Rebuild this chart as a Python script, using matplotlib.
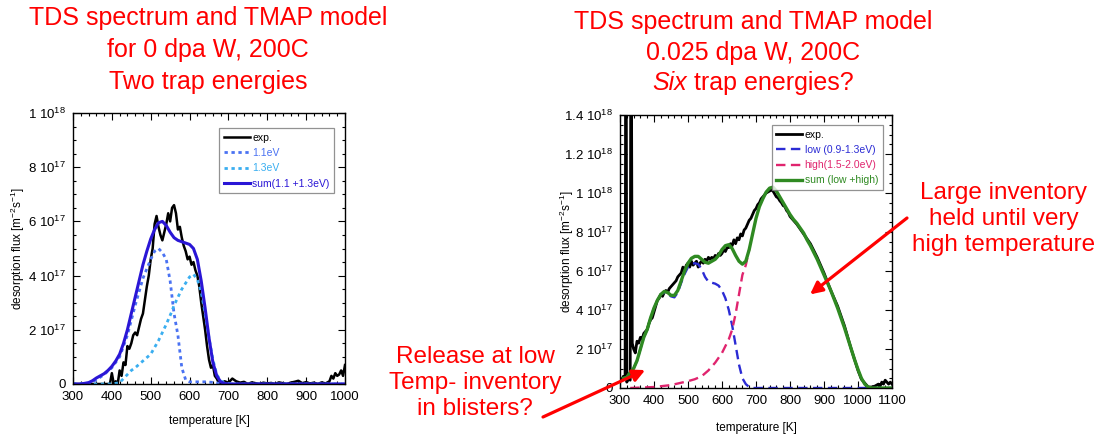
import matplotlib
matplotlib.use("Agg")
import matplotlib.pyplot as plt
from matplotlib.ticker import MultipleLocator

# ---- 0 dpa W, 200C (flux in units of 1e17 m^-2 s^-1) ----
t_exp_0 = [300, 320, 340, 360, 380, 395, 400, 405, 410, 415, 420, 425, 430, 435,
           440, 445, 450, 455, 460, 465, 470, 475, 480, 485, 490, 495, 500, 505,
           510, 515, 520, 525, 530, 535, 540, 545, 550, 555, 560, 565, 570, 575,
           580, 585, 590, 595, 600, 605, 610, 615, 620, 625, 630, 635, 640, 645,
           650, 655, 660, 665, 670, 675, 680, 690, 700, 710, 720, 730, 740, 750,
           760, 770, 780, 790, 800, 810, 820, 830, 840, 850, 860, 870, 880, 890,
           900, 910, 920, 930, 940, 950, 960, 965, 970, 975, 980, 985, 990, 995, 1000]
exp_0 = [0.0, 0.0, 0.0, 0.0, 0.0, 0.0, 0.4, 0.0, 0.1, 0.0, 0.5, 0.3, 0.8, 0.7,
         1.4, 1.3, 1.5, 1.8, 1.9, 1.8, 2.1, 2.4, 2.6, 3.1, 3.6, 4.0, 4.6, 5.0,
         5.9, 6.2, 5.8, 5.5, 5.3, 5.6, 5.9, 6.3, 6.0, 6.5, 6.6, 6.3, 5.7, 5.8,
         5.4, 5.1, 4.9, 4.6, 4.7, 4.4, 4.5, 4.2, 4.0, 3.6, 3.0, 2.5, 2.0, 1.4,
         0.9, 0.6, 0.7, 0.3, 0.2, 0.05, 0.0, 0.1, 0.05, 0.2, 0.1, 0.05, 0.08, 0.0,
         0.06, 0.03, 0.0, 0.05, 0.02, 0.04, 0.0, 0.06, 0.03, 0.0, 0.05, 0.08, 0.12, 0.03,
         0.07, 0.02, 0.05, 0.0, 0.06, 0.02, 0.1, 0.3, 0.2, 0.4, 0.3, 0.35, 0.5, 0.3, 0.7]

t_sum_0 = [300, 320, 340, 350, 360, 370, 380, 390, 400, 410, 420, 430, 440, 450,
           460, 470, 480, 490, 500, 510, 520, 530, 540, 550, 560, 570, 580, 590,
           600, 610, 620, 630, 640, 650, 660, 670, 680, 690, 700, 1000]
sum_0 = [0.0, 0.0, 0.05, 0.12, 0.22, 0.3, 0.38, 0.5, 0.65, 0.85, 1.1, 1.5, 2.0, 2.6,
         3.2, 3.8, 4.4, 4.9, 5.35, 5.7, 5.95, 6.0, 5.85, 5.6, 5.4, 5.3, 5.25, 5.2,
         5.15, 5.0, 4.6, 3.8, 2.8, 1.7, 0.8, 0.3, 0.08, 0.02, 0.0, 0.0]

t_11 = [300, 340, 360, 380, 400, 420, 440, 460, 480, 500, 510, 520, 530, 540,
        550, 560, 570, 580, 590, 600, 620, 640, 660, 680, 700, 1000]
e_11 = [0.0, 0.03, 0.15, 0.35, 0.6, 1.0, 1.8, 2.9, 3.9, 4.6, 4.9, 5.0, 4.85, 4.6,
        3.8, 2.6, 1.8, 0.6, 0.15, 0.08, 0.08, 0.08, 0.06, 0.02, 0.0, 0.0]

t_13 = [300, 400, 420, 440, 450, 460, 480, 500, 520, 530, 540, 555, 560, 580,
        600, 610, 620, 630, 640, 650, 660, 670, 680, 690, 700, 720, 1000]
e_13 = [0.0, 0.0, 0.05, 0.35, 0.5, 0.6, 0.85, 1.1, 1.6, 1.9, 2.2, 2.7, 2.9, 3.5,
        3.95, 4.05, 3.85, 3.4, 2.6, 1.7, 0.9, 0.35, 0.12, 0.05, 0.02, 0.0, 0.0]

# ---- 0.025 dpa W, 200C ----
t_exp_d = [300, 305, 310, 315, 317, 318, 320, 325, 330, 332, 333, 336, 340, 345,
           350, 355, 360, 365, 370, 375, 380, 385, 390, 395, 400, 405, 410, 415,
           420, 425, 430, 435, 440, 445, 450, 455, 460, 465, 470, 475, 480, 485,
           490, 495, 500, 505, 510, 515, 520, 525, 530, 535, 540, 545, 550, 555,
           560, 565, 570, 575, 580, 585, 590, 595, 600, 605, 610, 615, 620, 625,
           630, 635, 640, 645, 650, 655, 660, 665, 670, 675, 680, 685, 690, 695,
           700, 705, 710, 715, 720, 725, 730, 735, 740, 745, 750, 755, 760, 765,
           770, 775, 780, 785, 790, 795, 800, 810, 820, 830, 840, 850, 860, 870,
           880, 890, 900, 910, 920, 930, 940, 950, 960, 970, 980, 990, 1000, 1010,
           1020, 1030, 1040, 1050, 1060, 1065, 1070, 1075, 1080, 1085, 1090, 1095, 1100]
exp_d = [0.5, 0.4, 0.6, 0.5, 20.0, 20.0, 0.3, 0.5, 0.4, 20.0, 20.0, 2.3, 2.0, 1.8,
         2.4, 2.3, 2.6, 2.5, 2.8, 2.9, 3.0, 3.3, 3.5, 3.6, 3.9, 4.2, 4.5, 4.6,
         4.8, 4.7, 4.9, 5.0, 4.9, 5.1, 5.2, 5.3, 5.4, 5.5, 5.7, 5.8, 5.9, 6.2,
         6.0, 6.3, 6.4, 6.2, 6.5, 6.3, 6.4, 6.5, 6.2, 6.4, 6.5, 6.4, 6.6, 6.5,
         6.7, 6.6, 6.7, 6.6, 6.8, 6.7, 6.9, 6.8, 6.9, 7.1, 7.0, 7.2, 7.2, 7.4,
         7.3, 7.6, 7.4, 7.7, 7.6, 7.9, 7.8, 8.1, 8.2, 8.4, 8.6, 8.7, 8.9, 9.1,
         9.2, 9.4, 9.5, 9.7, 9.8, 9.9, 10.0, 10.05, 10.1, 10.15, 10.1, 9.95, 9.8, 9.75,
         9.6, 9.5, 9.35, 9.3, 9.1, 9.0, 8.8, 8.6, 8.4, 8.15, 7.9, 7.65, 7.4, 7.05,
         6.7, 6.3, 5.9, 5.45, 5.0, 4.6, 4.2, 3.7, 3.2, 2.6, 2.0, 1.45, 0.9, 0.45,
         0.25, 0.05, 0.05, 0.1, 0.2, 0.1, 0.3, 0.2, 0.4, 0.3, 0.2, 0.3, 0.2]

t_model_d = [310, 320, 330, 340, 350, 360, 370, 380, 390, 400, 410, 420, 430, 440,
             450, 460, 470, 480, 490, 500, 510, 520, 530, 540, 550, 560, 570, 580,
             590, 600, 610, 620, 630, 640, 650, 660, 670, 680, 690, 700, 710, 720,
             730, 740, 750, 760, 770, 780, 790, 800, 810, 820, 830, 840, 850, 860,
             870, 880, 890, 900, 910, 920, 930, 940, 950, 960, 970, 980, 990, 1000,
             1010, 1020, 1030, 1040, 1100]
sum_d = [0.5, 0.55, 0.8, 1.0, 1.4, 2.0, 2.6, 3.0, 3.6, 4.1, 4.5, 4.8, 4.95, 4.9,
         4.75, 4.75, 5.0, 5.5, 6.0, 6.4, 6.65, 6.75, 6.75, 6.6, 6.45, 6.4, 6.5, 6.6,
         6.8, 7.1, 7.3, 7.35, 7.15, 6.8, 6.5, 6.35, 6.5, 7.1, 7.9, 8.7, 9.3, 9.7,
         10.05, 10.25, 10.3, 10.1, 9.8, 9.5, 9.2, 8.9, 8.65, 8.45, 8.2, 7.95, 7.6, 7.3,
         6.95, 6.6, 6.2, 5.8, 5.4, 5.0, 4.55, 4.1, 3.6, 3.1, 2.55, 2.0, 1.45, 0.95,
         0.5, 0.2, 0.05, 0.0, 0.0]
low_d = [0.5, 0.55, 0.8, 1.0, 1.4, 2.0, 2.6, 3.0, 3.6, 4.1, 4.5, 4.8, 4.9, 4.85,
         4.7, 4.65, 4.9, 5.4, 5.85, 6.2, 6.35, 6.4, 6.35, 6.1, 5.7, 5.45, 5.4, 5.35,
         5.25, 5.0, 4.6, 4.0, 3.2, 2.2, 1.2, 0.5, 0.2, 0.05, 0.0, 0.0, 0.0, 0.0,
         0.0, 0.0, 0.0, 0.0, 0.0, 0.0, 0.0, 0.0, 0.0, 0.0, 0.0, 0.0, 0.0, 0.0,
         0.0, 0.0, 0.0, 0.0, 0.0, 0.0, 0.0, 0.0, 0.0, 0.0, 0.0, 0.0, 0.0, 0.0,
         0.0, 0.0, 0.0, 0.0, 0.0]
t_high_d = [330, 400, 450, 500, 520, 540, 560, 580, 600, 620, 630, 640, 650, 660, 670, 680]
high_d = [0.0, 0.05, 0.15, 0.35, 0.45, 0.6, 0.9, 1.3, 1.8, 2.5, 3.0, 3.8, 4.8, 5.8, 6.3, 7.1]

ticks_0 = [0, 2, 4, 6, 8, 10]
tick_labels_0 = ["0", "2 10$^{17}$", "4 10$^{17}$", "6 10$^{17}$", "8 10$^{17}$", "1 10$^{18}$"]
ticks_d = [0, 2, 4, 6, 8, 10, 12, 14]
tick_labels_d = ["0", "2 10$^{17}$", "4 10$^{17}$", "6 10$^{17}$", "8 10$^{17}$",
                 "1 10$^{18}$", "1.2 10$^{18}$", "1.4 10$^{18}$"]

RED = "#ff0000"
TITLE_SIZE = 18

plt.rcParams["font.family"] = ["Liberation Sans", "DejaVu Sans"]
plt.rcParams["mathtext.default"] = "regular"


def style_axes(ax, xmax, ymax, yticks, ylabels):
    ax.set_xlim(300, xmax)
    ax.set_ylim(0, ymax)
    ax.set_xticks(range(300, xmax + 1, 100))
    ax.set_yticks(yticks)
    ax.set_yticklabels(ylabels)
    ax.xaxis.set_minor_locator(MultipleLocator(20))
    ax.yaxis.set_minor_locator(MultipleLocator(0.5))
    ax.tick_params(which="both", direction="in", top=True, right=True, width=0.8,
                   labelsize=9.5, pad=5)
    ax.tick_params(which="major", length=5)
    ax.tick_params(which="minor", length=2.5)
    for s in ax.spines.values():
        s.set_linewidth(1.0)
    ax.set_xlabel("temperature [K]", fontsize=8.5)
    ax.set_ylabel("desorption flux [m$^{-2}$s$^{-1}$]", fontsize=8.5)


def add_legend(ax, anchor):
    leg = ax.legend(loc="upper right", bbox_to_anchor=anchor, fontsize=7.5,
                    fancybox=False, edgecolor="#777777", handlelength=2.5,
                    handletextpad=0.2, labelspacing=0.5, borderpad=0.45,
                    labelcolor="linecolor")
    leg.get_frame().set_linewidth(0.9)


fig = plt.figure(figsize=(11.03, 4.37), dpi=100)

# left panel: undamaged W
ax1 = fig.add_axes([73 / 1103, 53 / 437, 272 / 1103, 271 / 437])
ax1.plot(t_exp_0, exp_0, color="black", lw=1.8, label="exp.")
ax1.plot(t_11, e_11, color="#4a72f2", lw=2.0, ls=(0, (1.2, 1.3)), label="1.1eV")
ax1.plot(t_13, e_13, color="#3aaef0", lw=2.0, ls=(0, (1.2, 1.3)), label="1.3eV")
ax1.plot(t_sum_0, sum_0, color="#2a16d6", lw=2.2, label="sum(1.1 +1.3eV)")
style_axes(ax1, 1000, 10, ticks_0, tick_labels_0)
ax1.xaxis.set_label_coords(0.5, -0.115)
ax1.yaxis.set_label_coords(-0.17, 0.5)
add_legend(ax1, (0.98, 0.963))

# right panel: 0.025 dpa W
ax2 = fig.add_axes([620 / 1103, 49 / 437, 272 / 1103, 273 / 437])
ax2.plot(t_exp_d, exp_d, color="black", lw=2.0, label="exp.")
ax2.plot(t_model_d, low_d, color="#2b2bd4", lw=1.7, ls=(0, (4, 2.3)), label="low (0.9-1.3eV)")
ax2.plot(t_high_d, high_d, color="#e0246e", lw=1.7, ls=(0, (4, 2.3)), label="high(1.5-2.0eV)")
ax2.plot(t_model_d, sum_d, color="#2f8a22", lw=2.4, label="sum (low +high)")
style_axes(ax2, 1100, 14, ticks_d, tick_labels_d)
ax2.xaxis.set_label_coords(0.5, -0.125)
ax2.yaxis.set_label_coords(-0.163, 0.5)
add_legend(ax2, (0.985, 0.982))

# headings
for i, line in enumerate(["TDS spectrum and TMAP model", "for 0 dpa W, 200C", "Two trap energies"]):
    fig.text(208 / 1103, 1 - (18 + 32 * i) / 437, line, ha="center", va="center",
             fontsize=TITLE_SIZE, color=RED)
for i, line in enumerate(["TDS spectrum and TMAP model", "0.025 dpa W, 200C"]):
    fig.text(753 / 1103, 1 - (22 + 31 * i) / 437, line, ha="center", va="center",
             fontsize=TITLE_SIZE, color=RED)

# third right heading line: "Six" in italics, rest upright, centred as one line
y3 = 1 - 83 / 437
t_it = fig.text(0, y3, "Six", ha="left", va="center", fontsize=TITLE_SIZE, color=RED,
                style="italic")
t_rest = fig.text(0, y3, " trap energies?", ha="left", va="center",
                  fontsize=TITLE_SIZE, color=RED)
renderer = fig.canvas.get_renderer()
w_it = t_it.get_window_extent(renderer).width / fig.bbox.width
w_rest = t_rest.get_window_extent(renderer).width / fig.bbox.width
x0 = 753 / 1103 - (w_it + w_rest) / 2
t_it.set_x(x0)
t_rest.set_x(x0 + w_it)

# annotations
fig.text(1004 / 1103, 1 - 219 / 437, "Large inventory\nheld until very\nhigh temperature",
         ha="center", va="center", fontsize=17.5, color=RED, linespacing=1.22)
fig.text(475 / 1103, 1 - 383 / 437, "Release at low\nTemp- inventory\nin blisters?",
         ha="center", va="center", fontsize=17.5, color=RED, linespacing=1.22)

arrow = dict(arrowstyle="-|>", color=RED, lw=2.3, mutation_scale=18,
             shrinkA=0, shrinkB=0)
ax2.annotate("", xy=(859, 4.8), xytext=(907 / 1103, 1 - 218 / 437),
             textcoords="figure fraction", arrowprops=arrow, annotation_clip=False)
ax2.annotate("", xy=(374, 0.92), xytext=(543 / 1103, 1 - 417 / 437),
             textcoords="figure fraction", arrowprops=arrow, annotation_clip=False)

fig.savefig("out.png", dpi=100)
